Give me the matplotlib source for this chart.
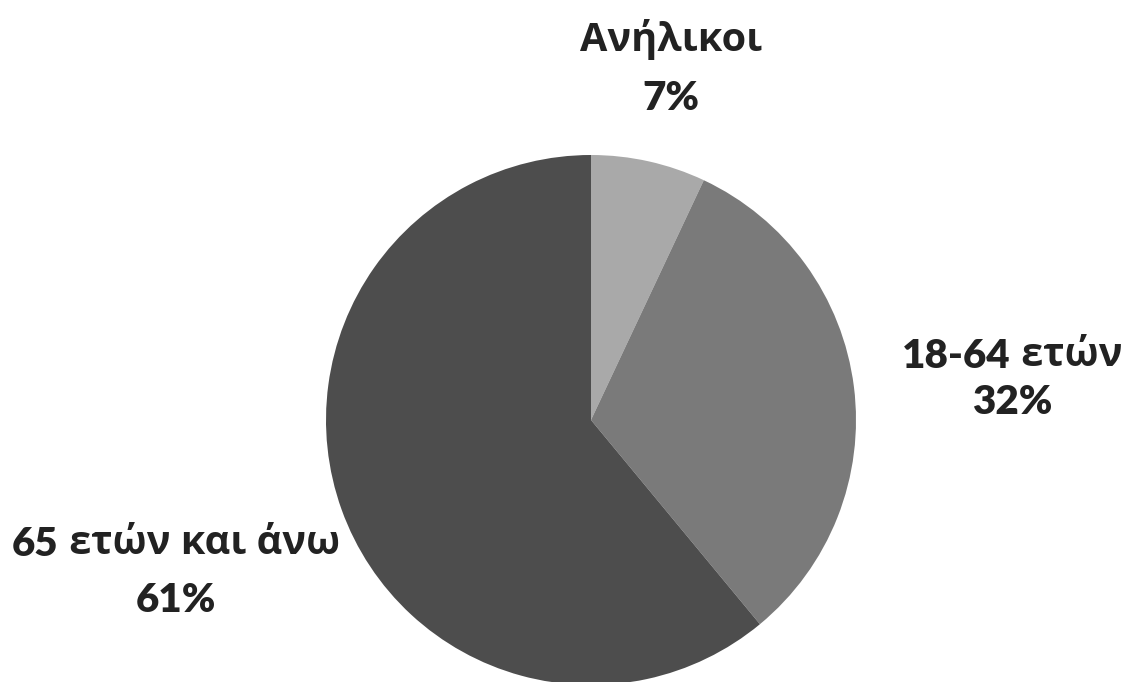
import matplotlib
matplotlib.use("Agg")
import matplotlib.pyplot as plt

groups = ["Ανήλικοι", "18-64 ετών", "65 ετών και άνω"]
shares = [7, 32, 61]
colors = ["#a9a9a9", "#7a7a7a", "#4d4d4d"]

W, H = 1132, 682
fig = plt.figure(figsize=(W / 100, H / 100), dpi=100)
ax = fig.add_axes([0, 0, 1, 1])

ax.pie(shares, colors=colors, startangle=90, counterclock=False,
       center=(591, H - 420), radius=265, frame=True,
       wedgeprops=dict(linewidth=0))
ax.set_xlim(0, W)
ax.set_ylim(0, H)
ax.set_aspect("equal")
ax.axis("off")

num_font = dict(family=["Lato", "DejaVu Sans"], weight="heavy", size=29, color="#222222")
txt_font = dict(family=["Open Sans", "DejaVu Sans"], weight="bold", size=28.5, color="#222222")

renderer = fig.canvas.get_renderer()


def runs(x, y, parts):
    # place text pieces side by side, centred on x
    objs = [ax.text(0, y, s, ha="left", va="center", **f) for s, f in parts]
    widths = [t.get_window_extent(renderer).width for t in objs]
    cur = x - sum(widths) / 2
    for t, w in zip(objs, widths):
        t.set_x(cur)
        cur += w


runs(671, H - 40, [(groups[0], txt_font)])
runs(671, H - 99, [(f"{shares[0]}%", num_font)])
runs(1012, H - 356, [("18-64", num_font), (" ετών", txt_font)])
runs(1012, H - 403, [(f"{shares[1]}%", num_font)])
runs(176, H - 544, [("65", num_font), (" ετών και άνω", txt_font)])
runs(176, H - 601, [(f"{shares[2]}%", num_font)])

fig.savefig("out.png", dpi=100)
